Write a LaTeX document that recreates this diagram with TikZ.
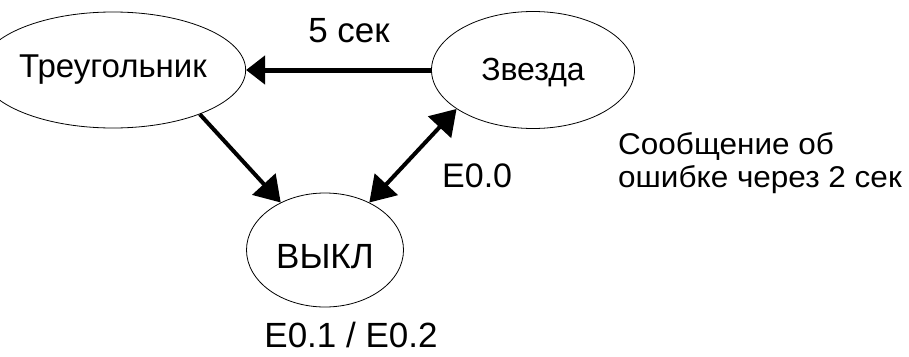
\documentclass[tikz,border=0pt]{standalone}
\usepackage{fontspec}
\setmainfont{Liberation Sans}
\newfontfamily\sansW[FakeStretch=1.05]{Liberation Sans}
\usetikzlibrary{arrows.meta,shapes.geometric}
\begin{document}
\begin{tikzpicture}[x=1pt,y=-1pt,
  state/.style={draw,ellipse,line width=0.8pt,inner sep=0pt,text depth=0pt},
  bigtip/.style={-{Triangle[length=19pt,width=28pt]}},
  diagtip/.style={-{Triangle[length=25pt,width=31pt]}},
  bothtip/.style={{Triangle[length=25pt,width=31pt]}-{Triangle[length=25pt,width=31pt]}},
  conn/.style={line width=4pt},
  lbl/.style={inner sep=0pt,anchor=base}]
  \useasboundingbox[fill=white] (0,0) rectangle (909,356);
  % states (text height sets where the baseline sits below the centre)
  \node[state,minimum width=206pt,minimum height=116pt,text height=14pt,font=\fontsize{33}{37}\selectfont] (tri) at (113,70) {Треугольник};
  \node[state,minimum width=203pt,minimum height=117pt,text height=20pt,font=\fontsize{32}{36}\selectfont] (zv) at (533,70) {Звезда};
  \node[state,minimum width=157pt,minimum height=114pt,text height=36pt,font=\fontsize{35}{39}\selectfont] (off) at (325,250) {ВЫКЛ};
  % transitions
  \draw[bigtip,line width=5pt] (zv) -- (tri);
  \draw[diagtip,conn] (tri.-27) -- (off.133);
  \draw[bothtip,conn] (off.47) -- (zv.-153);
  % labels
  \node[lbl,font=\fontsize{35}{39}\selectfont] (t5) at (349,42) {5 сек};
  \node[lbl,font=\fontsize{34}{38}\selectfont,anchor=base west] (e00) at (442,187) {E0.0};
  \node[lbl,font=\fontsize{35}{39}\selectfont] (e12) at (351,347) {E0.1 / E0.2};
  \node[inner sep=0pt,anchor=base west,font=\sansW\fontsize{30}{33}\selectfont,align=left] (msg) at (618,187) {Сообщение об\\ошибке через 2 сек};
\end{tikzpicture}
\end{document}
